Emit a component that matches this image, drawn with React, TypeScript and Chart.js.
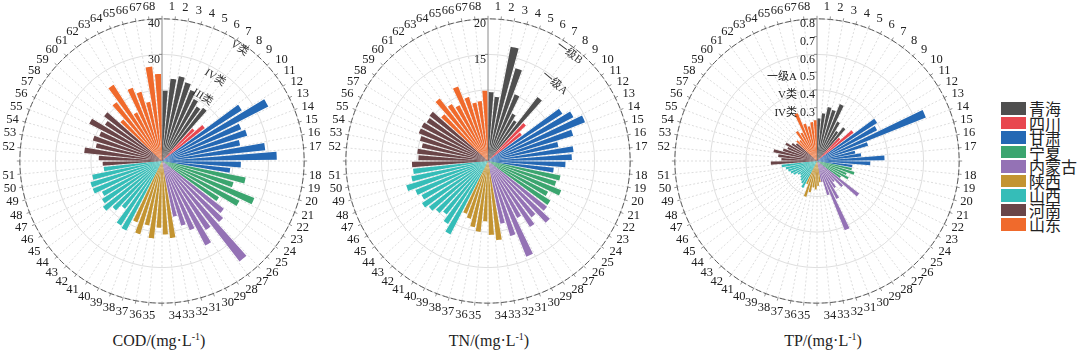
import React, { useEffect, useRef } from 'react';
import { Chart, registerables } from 'chart.js';

Chart.register(...registerables);

// ---------- data ----------
const siteLabels: string[] = Array.from({ length: 68 }, (_, i) => String(i + 1));

const provinces = ['青海', '四川', '甘肃', '宁夏', '内蒙古', '陕西', '山西', '河南', '山东'];
const provinceCounts = [8, 2, 9, 5, 8, 7, 11, 9, 9];
const provinceColors = ['#4f4f4f', '#e8474f', '#2468b4', '#3ba56f', '#9472b5', '#c39431', '#35bdb8', '#6a4548', '#f06a2c'];

const codValues = [
  19.8, 23.3, 24.3, 23.1, 21.5, 19.6, 18.2, 18.9,
  12.5, 15.2,
  26.6, 33.6, 24.0, 25.0, 22.4, 29.2, 32.3, 22.2, 19.3,
  24.0, 21.0, 28.0, 24.5, 19.0,
  22.0, 23.5, 35.7, 23.0, 26.7, 21.0, 19.0, 16.0,
  21.8, 20.7, 18.8, 21.9, 18.5, 21.5, 18.6,
  22.0, 21.5, 17.0, 19.0, 21.0, 20.0, 19.0, 21.0, 21.0, 20.0, 16.5,
  16.7, 17.8, 22.0, 19.0, 20.3, 19.0, 23.0, 19.0, 20.6,
  16.0, 20.9, 25.4, 15.4, 22.2, 20.3, 17.0, 26.7, 24.5,
];

const tnValues = [
  9.7, 9.1, 16.4, 13.6, 10.1, 7.5, 6.8, 11.4,
  7.3, 6.0,
  12.4, 13.5, 14.7, 12.5, 10.1, 12.1, 11.8, 10.9, 9.3,
  10.4, 10.0, 11.1, 9.5, 10.4,
  10.5, 11.9, 10.0, 11.0, 9.0, 14.5, 11.0, 9.0,
  11.2, 10.4, 8.5, 10.0, 9.5, 8.5, 8.0,
  11.6, 10.5, 9.5, 10.0, 10.5, 11.0, 10.5, 11.0, 12.0, 11.0, 10.6,
  10.7, 9.8, 10.0, 9.5, 10.0, 10.5, 10.5, 10.2, 10.4,
  9.0, 11.1, 9.5, 8.8, 11.3, 9.4, 8.4, 8.5, 9.9,
];

const tpValues = [
  0.24, 0.27, 0.31, 0.30, 0.345, 0.25, 0.20, 0.24,
  0.18, 0.26,
  0.40, 0.38, 0.66, 0.30, 0.22, 0.25, 0.38, 0.30, 0.20,
  0.20, 0.22, 0.18, 0.20, 0.16,
  0.30, 0.20, 0.15, 0.18, 0.24, 0.42, 0.20, 0.12,
  0.12, 0.14, 0.16, 0.15, 0.18, 0.21, 0.14,
  0.17, 0.15, 0.14, 0.13, 0.12, 0.13, 0.15, 0.16, 0.17, 0.18, 0.20,
  0.26, 0.20, 0.22, 0.25, 0.20, 0.18, 0.20, 0.17, 0.15,
  0.16, 0.15, 0.20, 0.18, 0.29, 0.22, 0.20, 0.22, 0.23,
];

const codTickLabels = [30, 40];
const tnTickLabels = [15, 20];
const tpTickLabels = [0.3, 0.4, 0.5, 0.6, 0.7, 0.8];

// note text, radial position (in axis units) and angle (degrees clockwise from top)
const codRingNotes = [
  { text: 'III类', r: 21.3, angle: 32.5 },
  { text: 'IV类', r: 27.8, angle: 32.5 },
  { text: 'V类', r: 38.5, angle: 34.5 },
];
const tnRingNotes = [
  { text: '一级A', r: 14.4, angle: 40.5 },
  { text: '一级B', r: 19.0, angle: 37 },
];
const tpAxisNotes = [
  { text: 'IV类', value: 0.3 },
  { text: 'V类', value: 0.4 },
  { text: '一级A', value: 0.5 },
];

const BAR_FRACTION = 0.76;
const TRANSPARENT = 'rgba(0,0,0,0)';

function siteColors(): string[] {
  const out: string[] = [];
  provinceCounts.forEach((n, p) => {
    for (let k = 0; k < n; k++) out.push(provinceColors[p]);
  });
  return out;
}

function buildSeries(values: number[]) {
  const n = values.length;
  const w = 360 / n;
  const b = w * BAR_FRACTION;
  const g = w - b;
  const cols = siteColors();
  const data: number[] = [0];
  const angles: number[] = [g / 2];
  const colors: string[] = [TRANSPARENT];
  values.forEach((v, i) => {
    data.push(v);
    angles.push(b);
    colors.push(cols[i]);
    data.push(0);
    angles.push(i === n - 1 ? g / 2 : g);
    colors.push(TRANSPARENT);
  });
  return { data, angles, colors };
}

type PanelCfg = {
  values: number[];
  max: number;
  step: number;
  ticks: number[];
  ringNotes?: { text: string; r: number; angle: number }[];
  axisNotes?: { text: string; value: number }[];
};

function makeOverlay(cfg: PanelCfg) {
  return {
    id: 'overlay',
    afterDatasetsDraw(chart: any) {
      const s = chart.scales.r;
      const ctx = chart.ctx as CanvasRenderingContext2D;
      const cx = s.xCenter;
      const cy = s.yCenter;
      const R = s.getDistanceFromCenterForValue(s.max);
      const n = chart.data.labels.length;
      ctx.save();
      // outer dashed circle
      ctx.strokeStyle = '#5a5a5a';
      ctx.lineWidth = 1;
      ctx.setLineDash([6, 2.5]);
      ctx.beginPath();
      ctx.arc(cx, cy, R, 0, Math.PI * 2);
      ctx.stroke();
      ctx.setLineDash([]);
      // small outer ticks at sector boundaries
      ctx.strokeStyle = '#777';
      ctx.lineWidth = 0.8;
      for (let i = 0; i < n; i++) {
        const a = s.getPointPosition(i, R);
        const b = s.getPointPosition(i, R + 3);
        ctx.beginPath();
        ctx.moveTo(a.x, a.y);
        ctx.lineTo(b.x, b.y);
        ctx.stroke();
      }
      // axis tick labels
      ctx.fillStyle = '#222';
      ctx.strokeStyle = '#777';
      ctx.font = '12px "Liberation Serif"';
      ctx.textAlign = 'right';
      ctx.textBaseline = 'middle';
      cfg.ticks.forEach((v) => {
        const d = s.getDistanceFromCenterForValue(v);
        ctx.beginPath();
        ctx.moveTo(cx - 3, cy - d);
        ctx.lineTo(cx, cy - d);
        ctx.stroke();
        ctx.fillText(String(v), cx - 2, cy - d + 5);
      });
      // notes beside axis
      ctx.font = '11px "Liberation Serif", "Noto Sans CJK SC"';
      (cfg.axisNotes || []).forEach((nt) => {
        const d = s.getDistanceFromCenterForValue(nt.value);
        ctx.fillText(nt.text, cx - 20, cy - d + 5);
      });
      // ring notes
      ctx.textAlign = 'center';
      ctx.fillStyle = '#333';
      (cfg.ringNotes || []).forEach((nt) => {
        const d = s.getDistanceFromCenterForValue(nt.r);
        const th = (nt.angle * Math.PI) / 180;
        ctx.save();
        ctx.translate(cx + d * Math.sin(th), cy - d * Math.cos(th));
        ctx.rotate(th);
        ctx.fillText(nt.text, 0, 0);
        ctx.restore();
      });
      ctx.restore();
    },
  };
}

function PolarPanel({ cfg, left }: { cfg: PanelCfg; left: number }) {
  const ref = useRef<HTMLCanvasElement>(null);
  useEffect(() => {
    if (!ref.current) return;
    const series = buildSeries(cfg.values);
    const chart = new Chart(ref.current, {
      type: 'polarArea',
      data: {
        labels: siteLabels,
        datasets: [
          {
            data: series.data,
            backgroundColor: series.colors,
            borderWidth: 0,
            angle: (c: any) => series.angles[c.dataIndex],
          } as any,
        ],
      },
      options: {
        responsive: false,
        animation: false,
        devicePixelRatio: 1,
        layout: { padding: 0 },
        plugins: {
          legend: { display: false },
          tooltip: { enabled: false },
          title: { display: false },
        },
        scales: {
          r: {
            min: 0,
            max: cfg.max,
            startAngle: 0,
            ticks: { display: false, stepSize: cfg.step },
            grid: { circular: true, color: '#d6d6d6', lineWidth: 0.8 },
            angleLines: {
              display: true,
              color: (c: any) => (c.index === 0 ? '#8a8a8a' : '#d4d4d4'),
              lineWidth: (c: any) => (c.index === 0 ? 1 : 0.8),
              borderDash: (c: any) => (c.index === 0 ? [] : [2, 2]),
            },
            pointLabels: {
              display: true,
              centerPointLabels: true,
              padding: 5,
              color: '#222',
              font: { family: '"Liberation Serif"', size: 12.5 },
            },
          } as any,
        },
      },
      plugins: [makeOverlay(cfg)],
    } as any);
    return () => chart.destroy();
  }, [cfg]);
  return (
    <div style={{ position: 'absolute', left, top: 0, width: 324, height: 324 }}>
      <canvas ref={ref} width={324} height={324} style={{ width: 324, height: 324, display: 'block' }} />
    </div>
  );
}

const codCfg: PanelCfg = { values: codValues, max: 40, step: 10, ticks: codTickLabels, ringNotes: codRingNotes };
const tnCfg: PanelCfg = { values: tnValues, max: 20, step: 5, ticks: tnTickLabels, ringNotes: tnRingNotes };
const tpCfg: PanelCfg = { values: tpValues, max: 0.8, step: 0.2, ticks: tpTickLabels, axisNotes: tpAxisNotes };

function Title({ name, cx }: { name: string; cx: number }) {
  return (
    <div
      style={{
        position: 'absolute',
        left: cx - 100,
        top: 332,
        width: 200,
        textAlign: 'center',
        fontFamily: '"Liberation Serif"',
        fontSize: 16,
        lineHeight: '18px',
        color: '#222',
      }}
    >
      {name}/(mg·L<sup style={{ fontSize: 10, verticalAlign: 'top', lineHeight: '10px' }}>-1</sup>)
    </div>
  );
}

export default function App() {
  return (
    <div style={{ position: 'fixed', left: 0, top: 0, width: 1080, height: 353, background: '#fff', overflow: 'hidden' }}>
      <PolarPanel cfg={codCfg} left={1} />
      <PolarPanel cfg={tnCfg} left={327} />
      <PolarPanel cfg={tpCfg} left={656} />
      <Title name="COD" cx={159} />
      <Title name="TN" cx={489} />
      <Title name="TP" cx={823} />
      <div style={{ position: 'absolute', left: 1001, top: 101, fontFamily: '"Noto Sans CJK SC"', fontSize: 16, color: '#222' }}>
        {provinces.map((p, i) => (
          <div key={p} style={{ display: 'flex', alignItems: 'center', height: 14.5 }}>
            <span style={{ width: 25, height: 12.5, background: provinceColors[i], marginRight: 3, flex: 'none' }} />
            <span style={{ lineHeight: '14.5px', whiteSpace: 'nowrap' }}>{p}</span>
          </div>
        ))}
      </div>
    </div>
  );
}
